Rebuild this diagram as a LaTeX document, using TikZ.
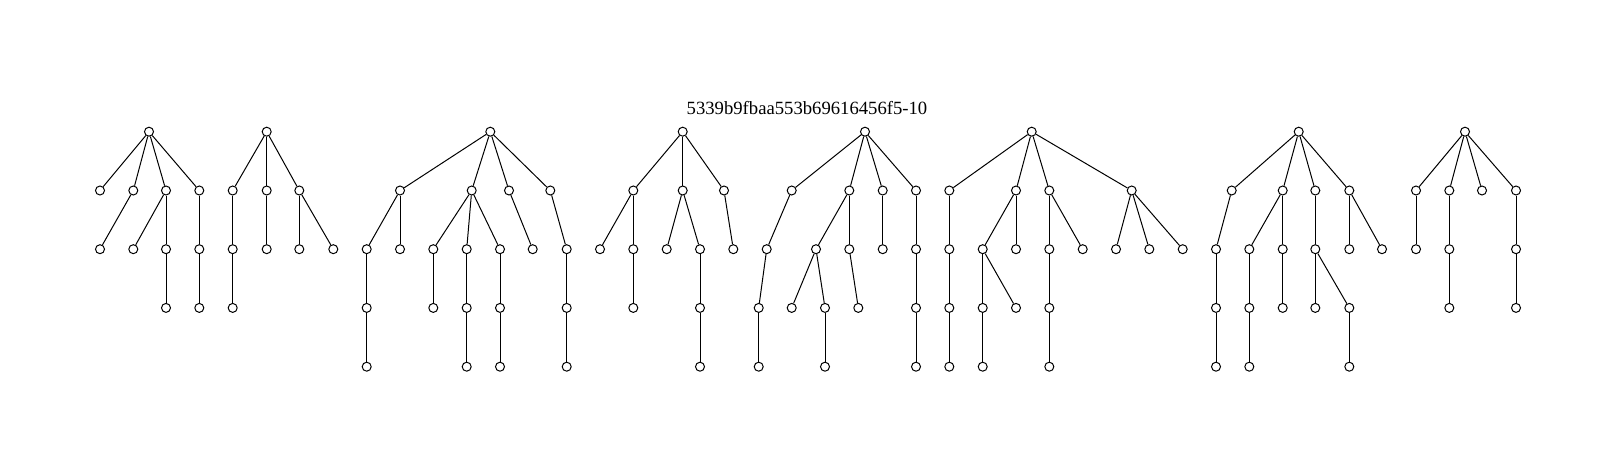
\documentclass[tikz,border=0pt]{standalone}
\usepackage{fontspec}
\setmainfont{Liberation Serif}
\begin{document}
\begin{tikzpicture}[x=1pt,y=-1pt,
  v/.style={circle,draw,line width=1pt,inner sep=0pt,minimum size=9pt,fill=white},
  e/.style={line width=1pt}]
\useasboundingbox (0,0) rectangle (1616,468);
\node[anchor=base,font=\fontsize{18.67}{22}\selectfont,inner sep=0pt] (title) at (807,115) {5339b9fbaa553b69616456f5-10};
% Tree 1
\node[v] (A) at (149,131.7) {};
\node[v] (A1) at (100,190.5) {};
\node[v] (A2) at (133.3,190.5) {};
\node[v] (A3) at (166,190.5) {};
\node[v] (A4) at (199.3,190.5) {};
\node[v] (A21) at (100,249.2) {};
\node[v] (A31) at (133.3,249.2) {};
\node[v] (A32) at (166,249.2) {};
\node[v] (A41) at (199.3,249.2) {};
\node[v] (A321) at (166,307.9) {};
\node[v] (A411) at (199.3,307.9) {};
% Tree 2
\node[v] (B) at (266.7,131.7) {};
\node[v] (B1) at (232.7,190.5) {};
\node[v] (B2) at (266.7,190.5) {};
\node[v] (B3) at (299.3,190.5) {};
\node[v] (B11) at (232.7,249.2) {};
\node[v] (B21) at (266.7,249.2) {};
\node[v] (B31) at (299.3,249.2) {};
\node[v] (B32) at (333.3,249.2) {};
\node[v] (B111) at (232.7,307.9) {};
% Tree 3
\node[v] (C) at (490.3,131.7) {};
\node[v] (C1) at (400,190.5) {};
\node[v] (C2) at (471.7,190.5) {};
\node[v] (C3) at (509,190.5) {};
\node[v] (C4) at (550.3,190.5) {};
\node[v] (C11) at (366.7,249.2) {};
\node[v] (C12) at (400,249.2) {};
\node[v] (C21) at (433.3,249.2) {};
\node[v] (C22) at (466.7,249.2) {};
\node[v] (C23) at (500,249.2) {};
\node[v] (C31) at (532.7,249.2) {};
\node[v] (C41) at (566.7,249.2) {};
\node[v] (C111) at (366.7,307.9) {};
\node[v] (C211) at (433.3,307.9) {};
\node[v] (C221) at (466.7,307.9) {};
\node[v] (C231) at (500,307.9) {};
\node[v] (C411) at (566.7,307.9) {};
\node[v] (C1111) at (366.7,366.7) {};
\node[v] (C2211) at (466.7,366.7) {};
\node[v] (C2311) at (500,366.7) {};
\node[v] (C4111) at (566.7,366.7) {};
% Tree 4
\node[v] (D) at (682.7,131.7) {};
\node[v] (D1) at (633.3,190.5) {};
\node[v] (D2) at (682.7,190.5) {};
\node[v] (D3) at (724,190.5) {};
\node[v] (D11) at (600,249.2) {};
\node[v] (D12) at (633.3,249.2) {};
\node[v] (D21) at (666.7,249.2) {};
\node[v] (D22) at (700,249.2) {};
\node[v] (D31) at (733.3,249.2) {};
\node[v] (D121) at (633.3,307.9) {};
\node[v] (D221) at (700,307.9) {};
\node[v] (D2211) at (700,366.7) {};
% Tree 5
\node[v] (E) at (865,131.7) {};
\node[v] (E1) at (791.7,190.5) {};
\node[v] (E2) at (849.3,190.5) {};
\node[v] (E3) at (882.7,190.5) {};
\node[v] (E4) at (916,190.5) {};
\node[v] (E11) at (766.7,249.2) {};
\node[v] (E21) at (816,249.2) {};
\node[v] (E22) at (849.3,249.2) {};
\node[v] (E31) at (882.7,249.2) {};
\node[v] (E41) at (916,249.2) {};
\node[v] (E111) at (758.7,307.9) {};
\node[v] (E211) at (791.7,307.9) {};
\node[v] (E212) at (825,307.9) {};
\node[v] (E221) at (858.3,307.9) {};
\node[v] (E411) at (916,307.9) {};
\node[v] (E1111) at (758.7,366.7) {};
\node[v] (E2121) at (825,366.7) {};
\node[v] (E4111) at (916,366.7) {};
% Tree 6
\node[v] (F) at (1031.7,131.7) {};
\node[v] (F1) at (949.3,190.5) {};
\node[v] (F2) at (1016,190.5) {};
\node[v] (F3) at (1049.3,190.5) {};
\node[v] (F4) at (1131.7,190.5) {};
\node[v] (F11) at (949.3,249.2) {};
\node[v] (F21) at (982.7,249.2) {};
\node[v] (F22) at (1016,249.2) {};
\node[v] (F31) at (1049.3,249.2) {};
\node[v] (F32) at (1082.7,249.2) {};
\node[v] (F41) at (1116,249.2) {};
\node[v] (F42) at (1149.3,249.2) {};
\node[v] (F43) at (1182.7,249.2) {};
\node[v] (F111) at (949.3,307.9) {};
\node[v] (F211) at (982.7,307.9) {};
\node[v] (F212) at (1016,307.9) {};
\node[v] (F311) at (1049.3,307.9) {};
\node[v] (F1111) at (949.3,366.7) {};
\node[v] (F2111) at (982.7,366.7) {};
\node[v] (F3111) at (1049.3,366.7) {};
% Tree 7
\node[v] (G) at (1298.7,131.7) {};
\node[v] (G1) at (1231.7,190.5) {};
\node[v] (G2) at (1282.7,190.5) {};
\node[v] (G3) at (1315.3,190.5) {};
\node[v] (G4) at (1349.3,190.5) {};
\node[v] (G11) at (1216,249.2) {};
\node[v] (G21) at (1249.3,249.2) {};
\node[v] (G22) at (1282.7,249.2) {};
\node[v] (G31) at (1315.3,249.2) {};
\node[v] (G41) at (1349.3,249.2) {};
\node[v] (G42) at (1382,249.2) {};
\node[v] (G111) at (1216,307.9) {};
\node[v] (G211) at (1249.3,307.9) {};
\node[v] (G221) at (1282.7,307.9) {};
\node[v] (G311) at (1315.3,307.9) {};
\node[v] (G312) at (1349.3,307.9) {};
\node[v] (G1111) at (1216,366.7) {};
\node[v] (G2111) at (1249.3,366.7) {};
\node[v] (G3121) at (1349.3,366.7) {};
% Tree 8
\node[v] (H) at (1465,131.7) {};
\node[v] (H1) at (1416,190.5) {};
\node[v] (H2) at (1449.3,190.5) {};
\node[v] (H3) at (1482,190.5) {};
\node[v] (H4) at (1516,190.5) {};
\node[v] (H11) at (1416,249.2) {};
\node[v] (H21) at (1449.3,249.2) {};
\node[v] (H41) at (1516,249.2) {};
\node[v] (H211) at (1449.3,307.9) {};
\node[v] (H411) at (1516,307.9) {};
% Edges
\foreach \p/\c in {A/A1,A/A2,A/A3,A/A4,A2/A21,A3/A31,A3/A32,A4/A41,A32/A321,A41/A411,
  B/B1,B/B2,B/B3,B1/B11,B2/B21,B3/B31,B3/B32,B11/B111,
  C/C1,C/C2,C/C3,C/C4,C1/C11,C1/C12,C2/C21,C2/C22,C2/C23,C3/C31,C4/C41,
  C11/C111,C21/C211,C22/C221,C23/C231,C41/C411,C111/C1111,C221/C2211,C231/C2311,C411/C4111,
  D/D1,D/D2,D/D3,D1/D11,D1/D12,D2/D21,D2/D22,D3/D31,D12/D121,D22/D221,D221/D2211,
  E/E1,E/E2,E/E3,E/E4,E1/E11,E2/E21,E2/E22,E3/E31,E4/E41,E11/E111,E21/E211,E21/E212,E22/E221,E41/E411,
  E111/E1111,E212/E2121,E411/E4111,
  F/F1,F/F2,F/F3,F/F4,F1/F11,F2/F21,F2/F22,F3/F31,F3/F32,F4/F41,F4/F42,F4/F43,
  F11/F111,F21/F211,F21/F212,F31/F311,F111/F1111,F211/F2111,F311/F3111,
  G/G1,G/G2,G/G3,G/G4,G1/G11,G2/G21,G2/G22,G3/G31,G4/G41,G4/G42,
  G11/G111,G21/G211,G22/G221,G31/G311,G31/G312,G111/G1111,G211/G2111,G312/G3121,
  H/H1,H/H2,H/H3,H/H4,H1/H11,H2/H21,H4/H41,H21/H211,H41/H411}
  \draw[e] (\p) -- (\c);
\end{tikzpicture}
\end{document}
